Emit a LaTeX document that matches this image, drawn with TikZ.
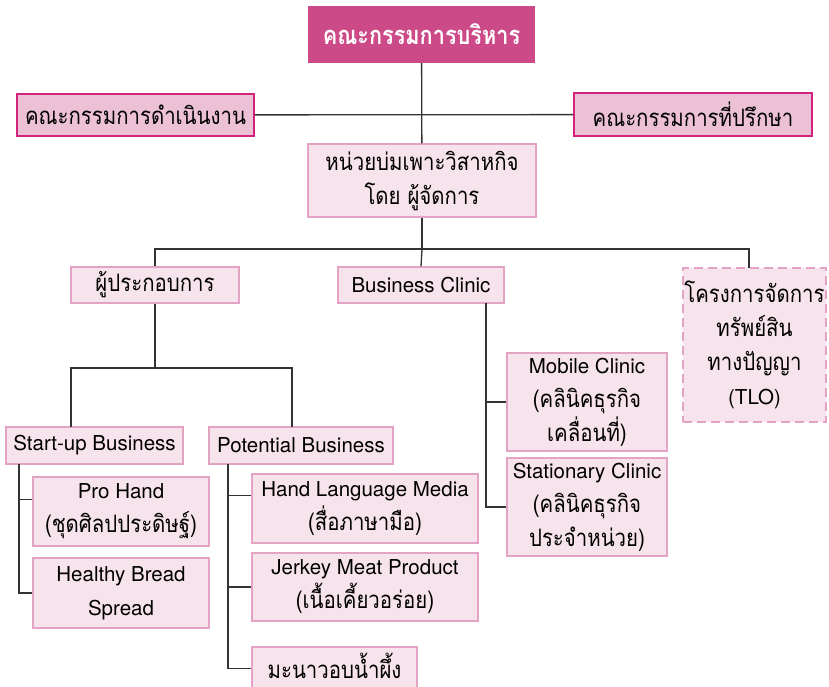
\documentclass[tikz,border=0pt]{standalone}
\usepackage{fontspec}
\setmainfont{TeX Gyre Heros}
\newfontfamily\thai[Script=Thai,FakeStretch=0.85]{Loma}
\usepackage{xcolor}
\usepackage{tikz}
\usetikzlibrary{positioning}

\definecolor{execfill}{HTML}{CD4A88}
\definecolor{midfill}{HTML}{ECC1D5}
\definecolor{midline}{HTML}{D4237F}
\definecolor{palefill}{HTML}{F6E3EC}
\definecolor{paleline}{HTML}{E3A3C5}
\definecolor{linkgray}{HTML}{333333}

\newcommand{\thtext}[1]{{\thai\fontsize{24}{34}\selectfont #1}}

\begin{document}
\begin{tikzpicture}[x=1pt,y=-1pt,
  box/.style={inner sep=0pt,align=center,font=\fontsize{20.5}{34}\selectfont},
  execbox/.style={box,fill=execfill,text=white},
  midbox/.style={box,fill=midfill,draw=midline,line width=1.2pt},
  palebox/.style={box,fill=palefill,draw=paleline,line width=1.2pt},
  tlobox/.style={palebox,dashed,dash pattern=on 9pt off 5pt},
  link/.style={draw=linkgray,line width=1.3pt}]

  \useasboundingbox (0,0) rectangle (829,686);

  % top level
  \node[execbox,minimum width=227pt,minimum height=57pt] (exec) at (421.5,34.5) {{\thai\bfseries\fontsize{25.5}{34}\selectfont คณะกรรมการบริหาร}};
  \node[midbox,minimum width=237pt,minimum height=42pt] (ops) at (135.5,115) {\thtext{คณะกรรมการดำเนินงาน}};
  \node[midbox,minimum width=238pt,minimum height=43pt] (advisory) at (693,114.5) {\thtext{คณะกรรมการที่ปรึกษา}};
  \node[palebox,minimum width=228pt,minimum height=73pt] (incub) at (422,180.5) {\thtext{หน่วยบ่มเพาะวิสาหกิจ}\\\thtext{โดย ผู้จัดการ}};

  \draw[link] (exec) -- (incub);
  \draw[link] (ops) -- (advisory);

  % second level
  \node[palebox,minimum width=168pt,minimum height=36pt] (entre) at (155,285) {\thtext{ผู้ประกอบการ}};
  \node[palebox,minimum width=166pt,minimum height=36pt] (clinic) at (421,285) {Business Clinic};
  \node[tlobox,minimum width=143pt,minimum height=154pt] (tlo) at (754.5,345) {\thtext{โครงการจัดการ}\\\thtext{ทรัพย์สิน}\\\thtext{ทางปัญญา}\\(TLO)};

  \coordinate (hub) at (422,249);
  \coordinate (tlotop) at (749,268);
  \draw[link] (incub.south) -- (hub);
  \draw[link] (entre.north) |- (hub) -| (tlotop);
  \draw[link] (hub) -- (clinic.north);

  % entrepreneurs
  \node[palebox,minimum width=177pt,minimum height=37pt] (startup) at (94.5,445.5) {Start-up Business};
  \node[palebox,minimum width=184pt,minimum height=37pt] (potential) at (301,445.5) {Potential Business};

  \coordinate (entrejoin) at (155,368);
  \coordinate (startuptop) at (71,427);
  \coordinate (potentialtop) at (292,427);
  \draw[link] (entre.south) -- (entrejoin);
  \draw[link] (startuptop) |- (entrejoin) -| (potentialtop);

  \node[palebox,minimum width=176pt,minimum height=69pt] (prohand) at (121,511.5) {Pro Hand\\\thtext{(ชุดศิลปประดิษฐ์)}};
  \node[palebox,minimum width=176pt,minimum height=70pt] (bread) at (121,593) {Healthy Bread\\Spread};

  \coordinate (startuproot) at (19,464);
  \draw[link] (startuproot) |- (bread.west);
  \draw[link] ([yshift=12pt]prohand.west) -| (startuproot);

  \node[palebox,minimum width=226pt,minimum height=69pt] (handlang) at (365,508.5) {Hand Language Media\\\thtext{(สื่อภาษามือ)}};
  \node[palebox,minimum width=226pt,minimum height=68pt] (jerkey) at (365,587) {Jerkey Meat Product\\\thtext{(เนื้อเคี้ยวอร่อย)}};
  \node[palebox,minimum width=165pt,minimum height=43pt,text height=19pt,text depth=0pt] (lime) at (334.5,668.5) {\thtext{มะนาวอบน้ำผึ้ง}};

  \coordinate (potentialroot) at (228,464);
  \draw[link] (potentialroot) |- (lime.west);
  \draw[link] (jerkey.west) -| (potentialroot);
  \draw[link] ([yshift=13pt]handlang.west) -| (potentialroot);

  % business clinic
  \node[palebox,minimum width=160pt,minimum height=98pt] (mobile) at (587,402) {Mobile Clinic\\\thtext{(คลินิคธุรกิจ}\\\thtext{เคลื่อนที่)}};
  \node[palebox,minimum width=160pt,minimum height=98pt] (stationary) at (587,507) {Stationary Clinic\\\thtext{(คลินิคธุรกิจ}\\\thtext{ประจำหน่วย)}};

  \coordinate (clinicroot) at (486,303);
  \draw[link] (clinicroot) |- (stationary.west);
  \draw[link] (mobile.west) -| (clinicroot);

\end{tikzpicture}
\end{document}
